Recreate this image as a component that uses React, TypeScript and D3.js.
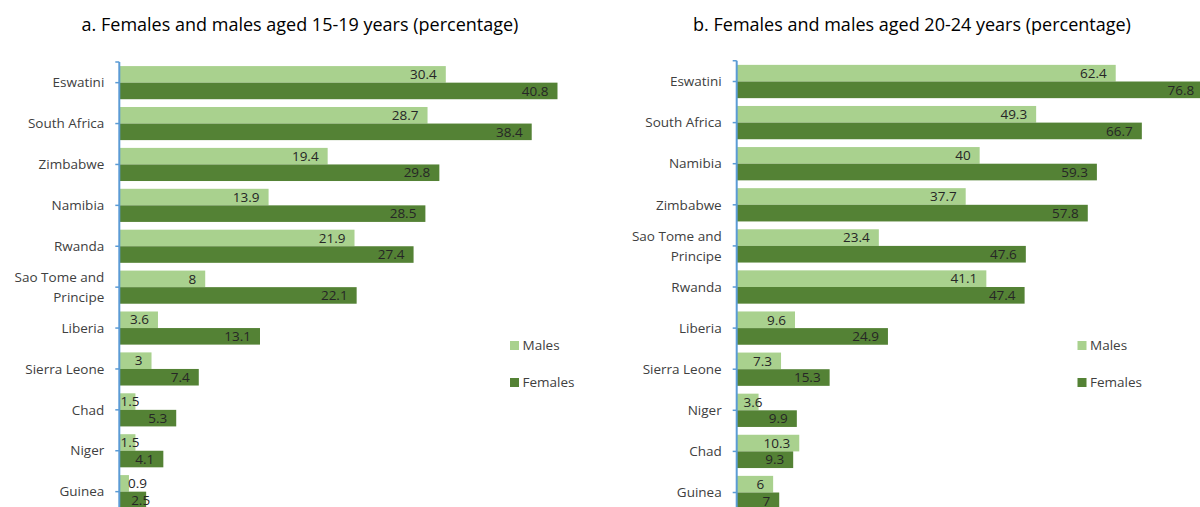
import React from "react";
import * as d3 from "d3";

const categoriesA = ["Eswatini", "South Africa", "Zimbabwe", "Namibia", "Rwanda", "Sao Tome and Principe", "Liberia", "Sierra Leone", "Chad", "Niger", "Guinea"];
const malesA = [30.4, 28.7, 19.4, 13.9, 21.9, 8, 3.6, 3, 1.5, 1.5, 0.9];
const femalesA = [40.8, 38.4, 29.8, 28.5, 27.4, 22.1, 13.1, 7.4, 5.3, 4.1, 2.5];

const categoriesB = ["Eswatini", "South Africa", "Namibia", "Zimbabwe", "Sao Tome and Principe", "Rwanda", "Liberia", "Sierra Leone", "Niger", "Chad", "Guinea"];
const malesB = [62.4, 49.3, 40, 37.7, 23.4, 41.1, 9.6, 7.3, 3.6, 10.3, 6];
const femalesB = [76.8, 66.7, 59.3, 57.8, 47.6, 47.4, 24.9, 15.3, 9.9, 9.3, 7];

const seriesNames = ["Males", "Females"];
const titleA = "a. Females and males aged 15-19 years (percentage)";
const titleB = "b. Females and males aged 20-24 years (percentage)";

const MALE = "#a9d18e";
const FEMALE = "#548235";
const AXIS = "#5b9bd5";
const TEXT = "#404040";
const FONT = "'Open Sans', 'Noto Sans', sans-serif";

let ctx: CanvasRenderingContext2D | null = null;
function measure(t: string, size: number) {
  if (!ctx) ctx = document.createElement("canvas").getContext("2d");
  if (!ctx) return t.length * size * 0.55;
  ctx.font = `${size}px 'Open Sans'`;
  return ctx.measureText(t).width;
}

function splitLabel(s: string) {
  return s === "Sao Tome and Principe" ? ["Sao Tome and", "Principe"] : [s];
}

type PanelProps = {
  title: string;
  titleX: number;
  categories: string[];
  males: number[];
  females: number[];
  axisX: number;
  pxPerUnit: number;
  maxVal: number;
  r0: number;
  step: number;
  legendX: number;
};

function Panel(p: PanelProps) {
  const n = p.categories.length;
  const pi = 0.19, po = 0.1;
  const x = d3.scaleLinear().domain([0, p.maxVal]).range([p.axisX, p.axisX + p.maxVal * p.pxPerUnit]);
  const y = d3
    .scaleBand<string>()
    .domain(p.categories)
    .range([p.r0, p.r0 + p.step * (n - pi + 2 * po)])
    .paddingInner(pi)
    .paddingOuter(po);
  const ys = d3.scaleBand<string>().domain(seriesNames).range([0, y.bandwidth()]);
  const valSize = 13.5;
  const label = (v: number, yy: number, key: string) => {
    const s = String(v);
    const w = measure(s, valSize);
    const end = x(v) - 9;
    let tx = end, anchor = "end";
    if (end - w < p.axisX + 2) {
      anchor = "start";
      tx = x(v) - 15;
      if (tx < p.axisX) tx = x(v) - 1;
    }
    return (
      <text key={key} x={tx} y={yy + ys.bandwidth() / 2} dy="0.35em" textAnchor={anchor} fontSize={valSize} fill="#262626" fontFamily={FONT}>
        {s}
      </text>
    );
  };
  return (
    <g>
      <text x={p.titleX} y={31} textAnchor="middle" fontSize={18} fill="#000" fontFamily={FONT}>
        {p.title}
      </text>
      {p.categories.map((c, i) => {
        const y0 = y(c)!;
        return (
          <g key={c}>
            <rect x={x(0)} y={y0 + ys("Males")!} width={x(p.males[i]) - x(0)} height={ys.bandwidth()} fill={MALE} />
            <rect x={x(0)} y={y0 + ys("Females")!} width={x(p.females[i]) - x(0)} height={ys.bandwidth()} fill={FEMALE} />
            {label(p.males[i], y0 + ys("Males")!, c + "m")}
            {label(p.females[i], y0 + ys("Females")!, c + "f")}
          </g>
        );
      })}
      <line x1={p.axisX} x2={p.axisX} y1={p.r0} y2={520} stroke={AXIS} strokeWidth={2} />
      <line x1={p.axisX - 4} x2={p.axisX} y1={p.r0} y2={p.r0} stroke={AXIS} strokeWidth={1.5} />
      {p.categories.map((c) => {
        const cy = y(c)! + y.bandwidth() / 2;
        const lines = splitLabel(c);
        return (
          <g key={c + "t"}>
            <line x1={p.axisX - 4} x2={p.axisX} y1={cy} y2={cy} stroke={AXIS} strokeWidth={1.5} />
            {lines.map((l, j) => (
              <text
                key={l}
                x={p.axisX - 15}
                y={cy + (j - (lines.length - 1) / 2) * 20}
                dy="0.35em"
                textAnchor="end"
                fontSize={13.5}
                fill={TEXT}
                fontFamily={FONT}
              >
                {l}
              </text>
            ))}
          </g>
        );
      })}
      {seriesNames.map((s, i) => (
        <g key={s}>
          <rect x={p.legendX} y={341 + i * 37} width={9} height={9} fill={i === 0 ? MALE : FEMALE} />
          <text x={p.legendX + 12.5} y={345.5 + i * 37} dy="0.35em" fontSize={13.5} fill={TEXT} fontFamily={FONT}>
            {s}
          </text>
        </g>
      ))}
    </g>
  );
}

export default function App() {
  return (
    <svg width={1200} height={507} style={{ position: "absolute", left: 0, top: 0, background: "#fff" }}>
      <Panel
        title={titleA}
        titleX={300}
        categories={categoriesA}
        males={malesA}
        females={femalesA}
        axisX={119.3}
        pxPerUnit={10.74}
        maxVal={45}
        r0={62}
        step={40.9}
        legendX={510}
      />
      <Panel
        title={titleB}
        titleX={912}
        categories={categoriesB}
        males={malesB}
        females={femalesB}
        axisX={736.7}
        pxPerUnit={6.074}
        maxVal={80}
        r0={60.75}
        step={41.1}
        legendX={1077.5}
      />
    </svg>
  );
}
